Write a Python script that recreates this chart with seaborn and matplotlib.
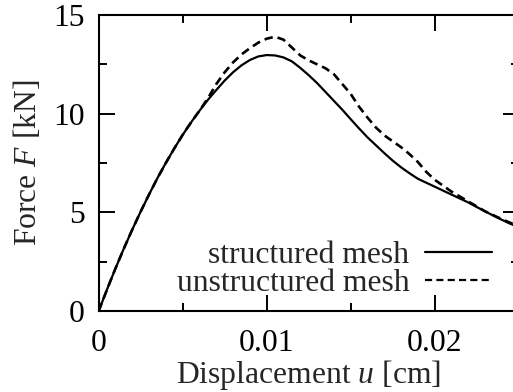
import numpy as np
import pandas as pd
import matplotlib
matplotlib.use("Agg")
import matplotlib.pyplot as plt
import seaborn as sns
from matplotlib.ticker import MultipleLocator

# ---- data ----
disp = [0.0, 0.0005, 0.001, 0.0015, 0.002, 0.0025, 0.003, 0.0035, 0.004, 0.0045,
        0.005, 0.0055, 0.006, 0.0065, 0.007, 0.0075, 0.008, 0.0085, 0.009, 0.0095,
        0.010, 0.0105, 0.011, 0.0115, 0.012, 0.0125, 0.013, 0.0135, 0.014, 0.0145,
        0.015, 0.0155, 0.016, 0.0165, 0.017, 0.0175, 0.018, 0.0185, 0.019, 0.0195,
        0.020, 0.0205, 0.021, 0.0215, 0.022, 0.0225, 0.023, 0.0235, 0.024, 0.0245, 0.025]

force_structured = [0.0, 1.10, 2.16, 3.17, 4.13, 5.04, 5.91, 6.74, 7.51, 8.24,
                    8.93, 9.56, 10.15, 10.70, 11.20, 11.68, 12.10, 12.45, 12.72, 12.90,
                    12.97, 12.95, 12.85, 12.65, 12.32, 11.95, 11.55, 11.10, 10.65, 10.20,
                    9.72, 9.25, 8.80, 8.40, 8.00, 7.62, 7.28, 6.98, 6.70, 6.50,
                    6.30, 6.10, 5.90, 5.70, 5.50, 5.27, 5.05, 4.83, 4.62, 4.42, 4.25]

force_unstructured = [0.0, 1.10, 2.16, 3.17, 4.13, 5.04, 5.91, 6.74, 7.51, 8.24,
                      8.93, 9.56, 10.15, 10.78, 11.50, 12.10, 12.60, 13.00, 13.32, 13.60,
                      13.80, 13.90, 13.75, 13.35, 12.95, 12.70, 12.50, 12.30, 12.00, 11.50,
                      11.00, 10.35, 9.80, 9.30, 8.90, 8.60, 8.30, 7.95, 7.55, 7.05,
                      6.65, 6.35, 6.05, 5.80, 5.55, 5.30, 5.05, 4.85, 4.65, 4.47, 4.30]

labels = ["structured mesh", "unstructured mesh"]
xticks = [0, 0.01, 0.02]
xticklabels = ["0", "0.01", "0.02"]
yticks = [0, 5, 10, 15]

# ---- style ----
sns.set_style("ticks")
plt.rcParams["font.family"] = ["Liberation Serif", "DejaVu Serif"]
plt.rcParams["mathtext.fontset"] = "custom"
plt.rcParams["mathtext.rm"] = "Liberation Serif"
plt.rcParams["mathtext.it"] = "Liberation Serif:italic"
fs = 22.8

fig = plt.figure(figsize=(5.13, 3.92), dpi=100)
ax = fig.add_axes([98.7 / 513, 81 / 392, 420 / 513, 296 / 392])

df = pd.DataFrame({"u": disp, "F1": force_structured, "F2": force_unstructured})
sns.lineplot(data=df, x="u", y="F1", ax=ax, color="black", lw=1.6,
             label=labels[0], sort=False)
sns.lineplot(data=df, x="u", y="F2", ax=ax, color="black", lw=1.9,
             linestyle=(0, (3.2, 1.9)), label=labels[1], sort=False)

ax.set_xlim(0, 0.025)
ax.set_ylim(0, 15)
ax.set_xticks(xticks)
ax.set_xticklabels(xticklabels)
ax.set_yticks(yticks)
ax.xaxis.set_minor_locator(MultipleLocator(0.005))
ax.yaxis.set_minor_locator(MultipleLocator(2.5))
ax.tick_params(which="both", direction="in", top=True, right=True,
               width=1.4, colors="black", labelsize=fs)
ax.tick_params(which="major", length=11.5)
ax.tick_params(which="minor", length=5.8)
ax.tick_params(axis="y", pad=10)
ax.tick_params(axis="x", pad=13)
for s in ax.spines.values():
    s.set_linewidth(1.5)
    s.set_color("black")

ax.set_xlabel(r"Displacement $u$ [cm]", fontsize=fs, labelpad=0)
ax.set_ylabel(r"Force $F$ [kN]", fontsize=fs, labelpad=7)

leg = ax.legend(loc="lower right", bbox_to_anchor=(0.936, 0.045),
                frameon=False, markerfirst=False, fontsize=fs,
                handlelength=2.1, handletextpad=0.5, labelspacing=-0.04,
                borderpad=0, borderaxespad=0)
leg.get_lines()[1].set_linewidth(1.6)

fig.savefig("out.png", dpi=100)
